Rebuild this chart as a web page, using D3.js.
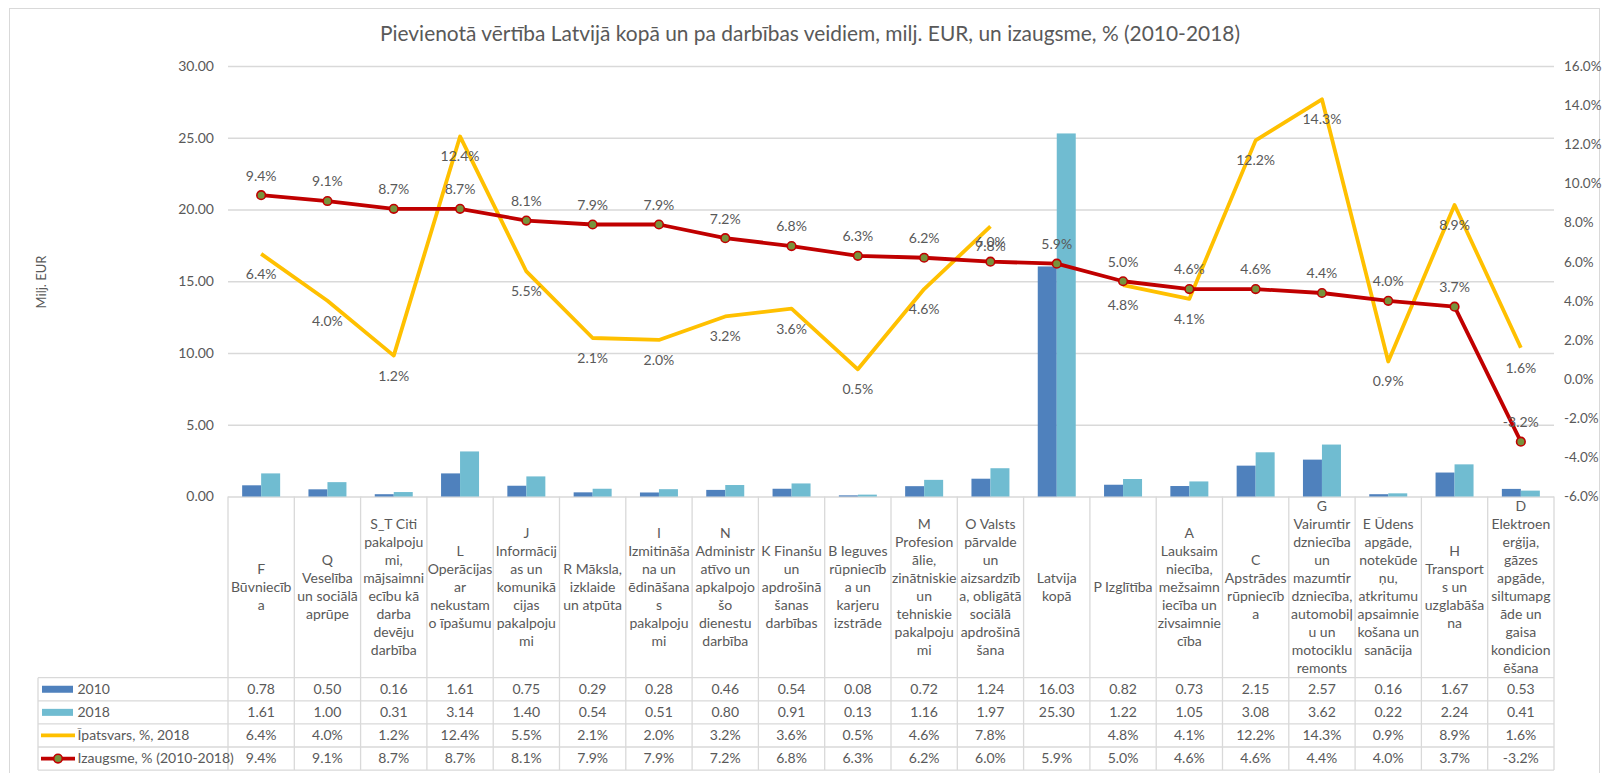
<!DOCTYPE html>
<html>
<head>
<meta charset="utf-8">
<script src="https://cdn.jsdelivr.net/npm/d3@7"></script>
<style>
  body { margin: 0; background: #fff; }
  text { font-family: Lato, "Open Sans", sans-serif; fill: #595959; }
</style>
</head>
<body>
<svg id="chart" width="1604" height="773"></svg>
<script>
// Activity categories, already broken into the lines shown in the table header
const categories = [
  ["F", "Būvniecīb", "a"],
  ["Q", "Veselība", "un sociālā", "aprūpe"],
  ["S_T Citi", "pakalpoju", "mi,", "mājsaimni", "ecību kā", "darba", "devēju", "darbība"],
  ["L", "Operācijas", "ar", "nekustam", "o īpašumu"],
  ["J", "Informācij", "as un", "komunikā", "cijas", "pakalpoju", "mi"],
  ["R Māksla,", "izklaide", "un atpūta"],
  ["I", "Izmitināša", "na un", "ēdināšana", "s", "pakalpoju", "mi"],
  ["N", "Administr", "atīvo un", "apkalpojo", "šo", "dienestu", "darbība"],
  ["K Finanšu", "un", "apdrošinā", "šanas", "darbības"],
  ["B Ieguves", "rūpniecīb", "a un", "karjeru", "izstrāde"],
  ["M", "Profesion", "ālie,", "zinātniskie", "un", "tehniskie", "pakalpoju", "mi"],
  ["O Valsts", "pārvalde", "un", "aizsardzīb", "a, obligātā", "sociālā", "apdrošinā", "šana"],
  ["Latvija", "kopā"],
  ["P Izglītība"],
  ["A", "Lauksaim", "niecība,", "mežsaimn", "iecība un", "zivsaimnie", "cība"],
  ["C", "Apstrādes", "rūpniecīb", "a"],
  ["G", "Vairumtir", "dzniecība", "un", "mazumtir", "dzniecība,", "automobiļ", "u un", "motociklu", "remonts"],
  ["E Ūdens", "apgāde,", "notekūde", "ņu,", "atkritumu", "apsaimnie", "košana un", "sanācija"],
  ["H", "Transport", "s un", "uzglabāša", "na"],
  ["D", "Elektroen", "erģija,", "gāzes", "apgāde,", "siltumapg", "āde un", "gaisa", "kondicion", "ēšana"]
];

// Value added, million EUR
const values2010 = [0.78, 0.50, 0.16, 1.61, 0.75, 0.29, 0.28, 0.46, 0.54, 0.08, 0.72, 1.24, 16.03, 0.82, 0.73, 2.15, 2.57, 0.16, 1.67, 0.53];
const values2018 = [1.61, 1.00, 0.31, 3.14, 1.40, 0.54, 0.51, 0.80, 0.91, 0.13, 1.16, 1.97, 25.30, 1.22, 1.05, 3.08, 3.62, 0.22, 2.24, 0.41];
// Share of total, %, 2018 (no value for the total itself)
const share2018 = [6.4, 4.0, 1.2, 12.4, 5.5, 2.1, 2.0, 3.2, 3.6, 0.5, 4.6, 7.8, null, 4.8, 4.1, 12.2, 14.3, 0.9, 8.9, 1.6];
// Growth, % (2010-2018)
const growth = [9.4, 9.1, 8.7, 8.7, 8.1, 7.9, 7.9, 7.2, 6.8, 6.3, 6.2, 6.0, 5.9, 5.0, 4.6, 4.6, 4.4, 4.0, 3.7, -3.2];

const leftTicks = [0, 5, 10, 15, 20, 25, 30];
const rightTicks = [-6, -4, -2, 0, 2, 4, 6, 8, 10, 12, 14, 16];

const seriesNames = ["2010", "2018", "Īpatsvars, %, 2018", "Izaugsme, % (2010-2018)"];
const titleText = "Pievienotā vērtība Latvijā kopā un pa darbības veidiem, milj. EUR, un izaugsme, % (2010-2018)";
const yTitle = "Milj. EUR";

const C = {
  bar2010: "#4F81BD",
  bar2018: "#70BCD1",
  share: "#FFC000",
  growth: "#C00000",
  marker: "#77933C",
  grid: "#D9D9D9"
};

const svg = d3.select("#chart");
const plot = { left: 228, right: 1554, top: 66, bottom: 496.5 };
const table = { left: 38, headerBottom: 677.7, rowH: 23.1 };
const FS = 14;

// chart area frame
svg.append("rect")
  .attr("x", 9.5).attr("y", 8.5).attr("width", 1590).attr("height", 775)
  .attr("fill", "#fff").attr("stroke", C.grid).attr("stroke-width", 1);

// title
svg.append("text")
  .attr("x", 810).attr("y", 41)
  .attr("text-anchor", "middle")
  .attr("textLength", 860)
  .attr("lengthAdjust", "spacingAndGlyphs")
  .style("font-size", "20.5px")
  .text(titleText);

const idx = d3.range(categories.length);
const x = d3.scaleBand().domain(idx).range([plot.left, plot.right]);
const yL = d3.scaleLinear().domain([0, 30]).range([plot.bottom, plot.top]);
const yR = d3.scaleLinear().domain([-6, 16]).range([plot.bottom, plot.top]);
const xs = d3.scaleBand().domain(["2010", "2018"]).range([0, x.bandwidth()]).paddingOuter(0.745);

// left axis with gridlines
const gL = svg.append("g")
  .attr("transform", `translate(${plot.left},0)`)
  .call(d3.axisLeft(yL).tickValues(leftTicks).tickFormat(d => d.toFixed(2))
    .tickSize(-(plot.right - plot.left)).tickPadding(14));
gL.select(".domain").remove();
gL.selectAll(".tick line").attr("stroke", C.grid).attr("stroke-width", 1.3);
gL.selectAll(".tick text").style("font-size", FS + "px").style("font-family", "Lato, sans-serif").attr("fill", "#595959");

// right axis
const gR = svg.append("g")
  .attr("transform", `translate(${plot.right},0)`)
  .call(d3.axisRight(yR).tickValues(rightTicks).tickFormat(d => d.toFixed(1) + "%")
    .tickSize(0).tickPadding(10));
gR.select(".domain").remove();
gR.selectAll(".tick text").style("font-size", "13.5px").style("font-family", "Lato, sans-serif").attr("fill", "#595959");

// y-axis title
svg.append("text")
  .attr("transform", "translate(46,282) rotate(-90)")
  .attr("text-anchor", "middle")
  .style("font-size", "13px")
  .text(yTitle);

// bars
const bars = svg.append("g");
const barSeries = [
  { key: "2010", values: values2010, color: C.bar2010 },
  { key: "2018", values: values2018, color: C.bar2018 }
];
barSeries.forEach(s => {
  bars.selectAll(null).data(idx).enter().append("rect")
    .attr("x", i => x(i) + xs(s.key))
    .attr("width", xs.bandwidth())
    .attr("y", i => yL(s.values[i]))
    .attr("height", i => yL(0) - yL(s.values[i]))
    .attr("fill", s.color);
});

const cx = i => x(i) + x.bandwidth() / 2;

// share line (gap where there is no value)
svg.append("path")
  .datum(idx)
  .attr("fill", "none")
  .attr("stroke", C.share)
  .attr("stroke-width", 3.8)
  .attr("stroke-linejoin", "round")
  .attr("d", d3.line().defined(i => share2018[i] != null).x(cx).y(i => yR(share2018[i])));

// growth line with markers
svg.append("path")
  .datum(idx)
  .attr("fill", "none")
  .attr("stroke", C.growth)
  .attr("stroke-width", 3.8)
  .attr("stroke-linejoin", "round")
  .attr("d", d3.line().x(cx).y(i => yR(growth[i])));
svg.append("g").selectAll("circle").data(idx).enter().append("circle")
  .attr("cx", cx).attr("cy", i => yR(growth[i])).attr("r", 4.3)
  .attr("fill", C.marker).attr("stroke", C.growth).attr("stroke-width", 1.6);

// data labels
const labels = svg.append("g").style("font-size", FS + "px");
labels.selectAll(null).data(idx.filter(i => share2018[i] != null)).enter().append("text")
  .attr("x", cx).attr("y", i => yR(share2018[i]) + 20).attr("dy", "0.35em")
  .attr("text-anchor", "middle")
  .text(i => share2018[i].toFixed(1) + "%");
labels.selectAll(null).data(idx).enter().append("text")
  .attr("x", cx).attr("y", i => yR(growth[i]) - 19.5).attr("dy", "0.35em")
  .attr("text-anchor", "middle")
  .text(i => growth[i].toFixed(1) + "%");

// data table
const tbl = svg.append("g");
const rowsTop = table.headerBottom;
const nRows = seriesNames.length;
const tableBottom = rowsTop + nRows * table.rowH;
const lineAttr = sel => sel.attr("stroke", C.grid).attr("stroke-width", 1.3);

// horizontal rules
d3.range(nRows + 1).forEach(r => {
  tbl.append("line").call(lineAttr)
    .attr("x1", table.left).attr("x2", plot.right)
    .attr("y1", rowsTop + r * table.rowH).attr("y2", rowsTop + r * table.rowH);
});
// vertical rules
tbl.append("line").call(lineAttr)
  .attr("x1", table.left).attr("x2", table.left).attr("y1", rowsTop).attr("y2", tableBottom);
idx.concat([categories.length]).forEach(i => {
  const xx = i < categories.length ? x(i) : plot.right;
  tbl.append("line").call(lineAttr)
    .attr("x1", xx).attr("x2", xx).attr("y1", plot.bottom).attr("y2", tableBottom);
});

// category headers
const headerMid = (plot.bottom + rowsTop) / 2;
const lh = 18;
idx.forEach(i => {
  const lines = categories[i];
  const t = tbl.append("text").attr("text-anchor", "middle").style("font-size", FS + "px");
  lines.forEach((ln, k) => {
    t.append("tspan").attr("x", cx(i))
      .attr("y", headerMid + (k - (lines.length - 1) / 2) * lh)
      .attr("dy", "0.35em")
      .text(ln);
  });
});

// table rows
const rowData = [
  values2010.map(v => v.toFixed(2)),
  values2018.map(v => v.toFixed(2)),
  share2018.map(v => v == null ? "" : v.toFixed(1) + "%"),
  growth.map(v => v.toFixed(1) + "%")
];
rowData.forEach((row, r) => {
  const yc = rowsTop + (r + 0.5) * table.rowH;
  tbl.selectAll(null).data(idx).enter().append("text")
    .attr("x", cx).attr("y", yc).attr("dy", "0.35em")
    .attr("text-anchor", "middle").style("font-size", FS + "px")
    .text(i => row[i]);
  // legend key
  const lg = tbl.append("g");
  if (r < 2) {
    lg.append("rect").attr("x", 42).attr("y", yc - 3.5).attr("width", 31).attr("height", 7)
      .attr("fill", r === 0 ? C.bar2010 : C.bar2018);
  } else {
    lg.append("line").attr("x1", 41).attr("x2", 75).attr("y1", yc).attr("y2", yc)
      .attr("stroke", r === 2 ? C.share : C.growth).attr("stroke-width", 3.8);
    if (r === 3) {
      lg.append("circle").attr("cx", 58).attr("cy", yc).attr("r", 4.3)
        .attr("fill", C.marker).attr("stroke", C.growth).attr("stroke-width", 1.6);
    }
  }
  lg.append("text").attr("x", 77.5).attr("y", yc).attr("dy", "0.35em")
    .style("font-size", FS + "px").text(seriesNames[r]);
});
</script>
</body>
</html>
